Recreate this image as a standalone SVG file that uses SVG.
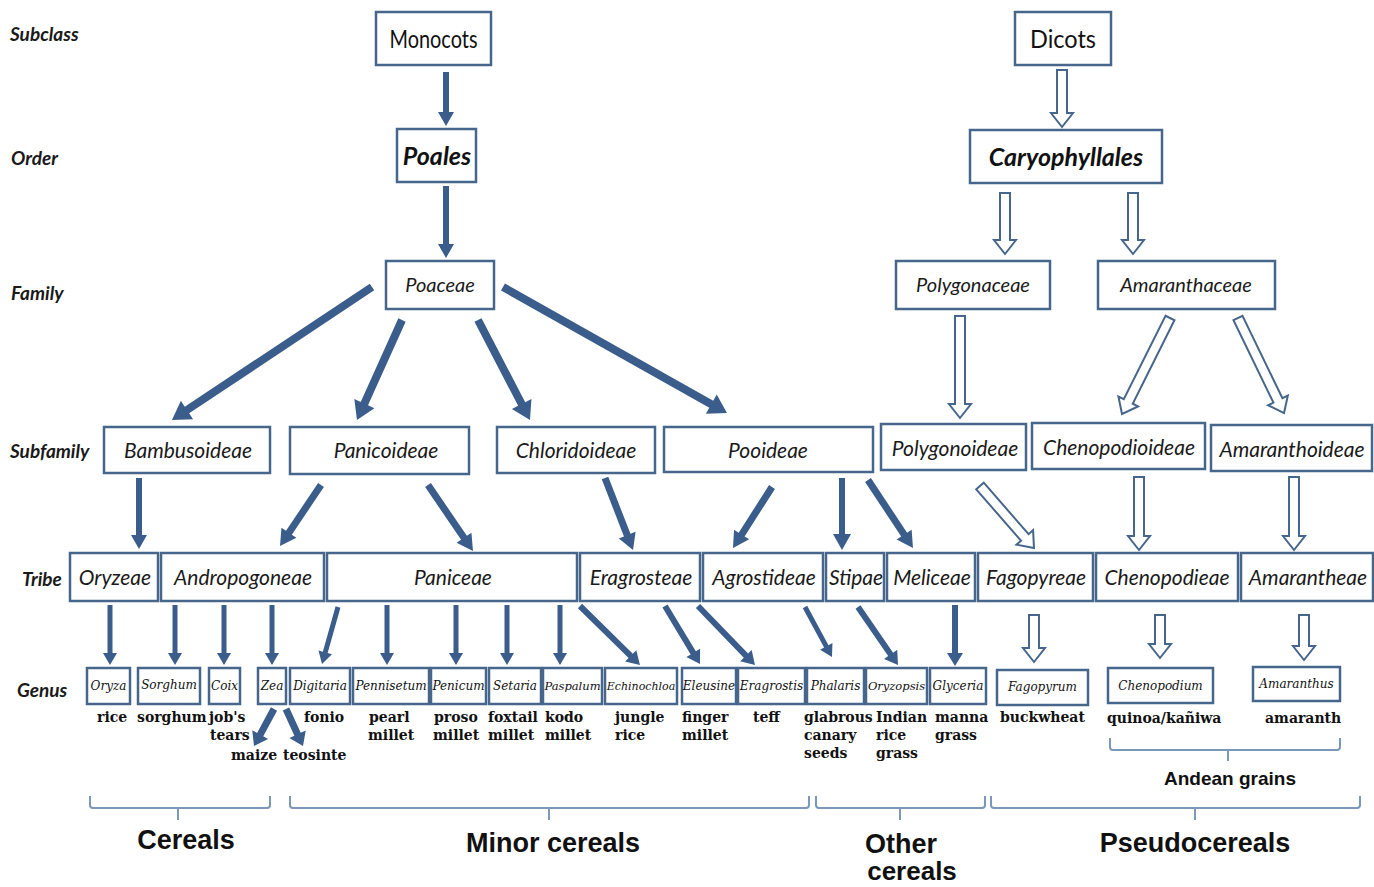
<svg xmlns="http://www.w3.org/2000/svg" width="1374" height="887" viewBox="0 0 1374 887">
<style>
.bx{fill:#fff;stroke:#46668c;stroke-width:2.5}
.rl{font-family:Lato,"Liberation Sans",sans-serif;font-weight:bold;font-style:italic;font-size:19px;fill:#1a1a1a}
.nt{font-family:Lato,"Liberation Sans",sans-serif;font-style:italic;font-size:21px;fill:#1a1a1a;text-anchor:middle}
.big{font-family:Lato,"Liberation Sans",sans-serif;font-size:25px;fill:#111;text-anchor:middle}
.bi{font-family:Lato,"Liberation Sans",sans-serif;font-weight:bold;font-style:italic;font-size:25px;fill:#111;text-anchor:middle}
.gn{font-family:"DejaVu Serif","Liberation Serif",serif;font-style:italic;font-size:12px;fill:#111;text-anchor:middle}
.cn{font-family:"DejaVu Serif","Liberation Serif",serif;font-weight:bold;font-size:14px;fill:#111}
.cat{font-family:"Liberation Sans",Arial,sans-serif;font-weight:bold;font-size:27px;fill:#111;text-anchor:middle}
.fa{fill:#3b5d8c}
.ha{fill:#fff;stroke:#46668c;stroke-width:2}
.br{fill:none;stroke:#7b98b8;stroke-width:2}
</style>

<!-- row labels -->
<g id="row-labels">
<text class="rl" x="10" y="41">Subclass</text>
<text class="rl" x="11" y="165">Order</text>
<text class="rl" x="11" y="300">Family</text>
<text class="rl" x="10" y="458">Subfamily</text>
<text class="rl" x="22" y="586">Tribe</text>
<text class="rl" x="17" y="697">Genus</text>
</g>

<!-- connectors -->
<g id="connectors">
<!-- filled arrows -->
<path class="fa" transform="translate(446,72)" d="M-3,0 H3 V40 H8 L0,54 L-8,40 H-3 Z"/>
<path class="fa" transform="translate(446,186)" d="M-3,0 H3 V58 H8 L0,72 L-8,58 H-3 Z"/>
<path class="fa" transform="translate(372,287) rotate(56.38)" d="M-4,0 H4 V222.2 H11 L0,240.2 L-11,222.2 H-4 Z"/>
<path class="fa" transform="translate(402,320) rotate(24.23)" d="M-4,0 H4 V91.7 H11 L0,109.7 L-11,91.7 H-4 Z"/>
<path class="fa" transform="translate(478,320) rotate(-27.47)" d="M-4,0 H4 V94.7 H11 L0,112.7 L-11,94.7 H-4 Z"/>
<path class="fa" transform="translate(503,287) rotate(-60.64)" d="M-4,0 H4 V239 H11 L0,257 L-11,239 H-4 Z"/>
<path class="fa" transform="translate(139,478)" d="M-3,0 H3 V57 H8 L0,71 L-8,57 H-3 Z"/>
<path class="fa" transform="translate(321,485) rotate(33.9)" d="M-3.5,0 H3.5 V57.5 H9 L0,73.5 L-9,57.5 H-3.5 Z"/>
<path class="fa" transform="translate(428,485) rotate(-34.29)" d="M-3.5,0 H3.5 V63.9 H9 L0,79.9 L-9,63.9 H-3.5 Z"/>
<path class="fa" transform="translate(605,478) rotate(-21.25)" d="M-3.5,0 H3.5 V61.3 H9 L0,77.3 L-9,61.3 H-3.5 Z"/>
<path class="fa" transform="translate(772,487) rotate(32.59)" d="M-3.5,0 H3.5 V56.4 H9 L0,72.4 L-9,56.4 H-3.5 Z"/>
<path class="fa" transform="translate(842,478)" d="M-3,0 H3 V56 H9 L0,72 L-9,56 H-3 Z"/>
<path class="fa" transform="translate(868,480) rotate(-33.5)" d="M-3.5,0 H3.5 V65.5 H9 L0,81.5 L-9,65.5 H-3.5 Z"/>
<!-- tribe to genus -->
<path class="fa" transform="translate(110,605)" d="M-2.5,0 H2.5 V48 H7 L0,60 L-7,48 H-2.5 Z"/>
<path class="fa" transform="translate(175,605)" d="M-2.5,0 H2.5 V48 H7 L0,60 L-7,48 H-2.5 Z"/>
<path class="fa" transform="translate(224,605)" d="M-2.5,0 H2.5 V48 H7 L0,60 L-7,48 H-2.5 Z"/>
<path class="fa" transform="translate(272,605)" d="M-2.5,0 H2.5 V48 H7 L0,60 L-7,48 H-2.5 Z"/>
<path class="fa" transform="translate(387,605)" d="M-2.5,0 H2.5 V48 H7 L0,60 L-7,48 H-2.5 Z"/>
<path class="fa" transform="translate(456,605)" d="M-2.5,0 H2.5 V48 H7 L0,60 L-7,48 H-2.5 Z"/>
<path class="fa" transform="translate(507,605)" d="M-2.5,0 H2.5 V48 H7 L0,60 L-7,48 H-2.5 Z"/>
<path class="fa" transform="translate(560,605)" d="M-2.5,0 H2.5 V48 H7 L0,60 L-7,48 H-2.5 Z"/>
<path class="fa" transform="translate(955,605)" d="M-3,0 H3 V48 H8 L0,61 L-8,48 H-3 Z"/>
<path class="fa" transform="translate(338,607) rotate(15.68)" d="M-2.5,0 H2.5 V47.2 H7 L0,59.2 L-7,47.2 H-2.5 Z"/>
<path class="fa" transform="translate(580,606) rotate(-45.48)" d="M-3,0 H3 V71.1 H8 L0,84.1 L-8,71.1 H-3 Z"/>
<path class="fa" transform="translate(665,606) rotate(-31.11)" d="M-3,0 H3 V54.7 H8 L0,67.7 L-8,54.7 H-3 Z"/>
<path class="fa" transform="translate(698,606) rotate(-44)" d="M-3,0 H3 V69 H8 L0,82 L-8,69 H-3 Z"/>
<path class="fa" transform="translate(805,607) rotate(-28.37)" d="M-2.5,0 H2.5 V44.8 H7 L0,56.8 L-7,44.8 H-2.5 Z"/>
<path class="fa" transform="translate(858,607) rotate(-34.59)" d="M-3,0 H3 V57.5 H8 L0,70.5 L-8,57.5 H-3 Z"/>
<path class="fa" transform="translate(274,709) rotate(28.39)" d="M-3.5,0 H3.5 V29.1 H9 L0,42.1 L-9,29.1 H-3.5 Z"/>
<path class="fa" transform="translate(286,709) rotate(-24.68)" d="M-3.5,0 H3.5 V27.7 H9 L0,40.7 L-9,27.7 H-3.5 Z"/>
<!-- hollow arrows -->
<polygon class="ha" points="1057,70 1067,70 1067,113 1073,113 1062,127 1051,113 1057,113"/>
<polygon class="ha" points="1000,193 1010,193 1010,240 1016,240 1005,254 994,240 1000,240"/>
<polygon class="ha" points="1128,193 1138,193 1138,240 1144,240 1133,254 1122,240 1128,240"/>
<polygon class="ha" points="955,316 965,316 965,404 971,404 960,418 949,404 955,404"/>
<path class="ha" transform="translate(1170,318) rotate(26.57)" d="M-5,0 H5 V93.3 H11 L0,107.3 L-11,93.3 H-5 Z"/>
<path class="ha" transform="translate(1238,318) rotate(-25.84)" d="M-5,0 H5 V91.6 H11 L0,105.6 L-11,91.6 H-5 Z"/>
<path class="ha" transform="translate(980,486) rotate(-41.05)" d="M-5,0 H5 V68.2 H11 L0,82.2 L-11,68.2 H-5 Z"/>
<polygon class="ha" points="1134,477 1144,477 1144,536 1150,536 1139,550 1128,536 1134,536"/>
<polygon class="ha" points="1289,477 1299,477 1299,536 1305,536 1294,550 1283,536 1289,536"/>
<polygon class="ha" points="1029,615 1039,615 1039,648 1045,648 1034,662 1023,648 1029,648"/>
<polygon class="ha" points="1155,615 1165,615 1165,644 1171,644 1160,658 1149,644 1155,644"/>
<polygon class="ha" points="1299,615 1309,615 1309,646 1315,646 1304,660 1293,646 1299,646"/>
</g>

<!-- subclass / order / family -->
<g id="n-monocots"><rect class="bx" x="376" y="12" width="115" height="53"/><text class="big" x="433.5" y="48" textLength="88" lengthAdjust="spacingAndGlyphs">Monocots</text></g>
<g id="n-dicots"><rect class="bx" x="1015" y="12" width="96" height="53"/><text class="big" x="1063" y="48" textLength="66" lengthAdjust="spacingAndGlyphs">Dicots</text></g>
<g id="n-poales"><rect class="bx" x="397" y="129" width="79" height="53"/><text class="bi" x="437" y="165">Poales</text></g>
<g id="n-caryophyllales"><rect class="bx" x="970" y="130" width="192" height="53"/><text class="bi" x="1066" y="166">Caryophyllales</text></g>
<g id="n-poaceae"><rect class="bx" x="386" y="261" width="108" height="48"/><text class="nt" x="440" y="292" style="font-size:20px">Poaceae</text></g>
<g id="n-polygonaceae"><rect class="bx" x="896" y="261" width="154" height="48"/><text class="nt" x="973" y="292" style="font-size:20px">Polygonaceae</text></g>
<g id="n-amaranthaceae"><rect class="bx" x="1098" y="261" width="177" height="48"/><text class="nt" x="1186" y="292" style="font-size:20px">Amaranthaceae</text></g>

<!-- subfamily -->
<g id="n-bambusoideae"><rect class="bx" x="104" y="427" width="166" height="46"/><text class="nt" x="188" y="458">Bambusoideae</text></g>
<g id="n-panicoideae"><rect class="bx" x="290" y="427" width="179" height="47"/><text class="nt" x="386" y="458">Panicoideae</text></g>
<g id="n-chloridoideae"><rect class="bx" x="497" y="427" width="158" height="46"/><text class="nt" x="576" y="458">Chloridoideae</text></g>
<g id="n-pooideae"><rect class="bx" x="664" y="427" width="209" height="45"/><text class="nt" x="768" y="458">Pooideae</text></g>
<g id="n-polygonoideae"><rect class="bx" x="881" y="424" width="145" height="46"/><text class="nt" x="955" y="456">Polygonoideae</text></g>
<g id="n-chenopodioideae"><rect class="bx" x="1032" y="423" width="173" height="46"/><text class="nt" x="1119" y="455">Chenopodioideae</text></g>
<g id="n-amaranthoideae"><rect class="bx" x="1211" y="425" width="161" height="46"/><text class="nt" x="1292" y="457">Amaranthoideae</text></g>

<!-- tribe -->
<g id="n-oryzeae"><rect class="bx" x="70" y="553" width="88" height="48"/><text class="nt" x="115" y="585">Oryzeae</text></g>
<g id="n-andropogoneae"><rect class="bx" x="161" y="553" width="163" height="48"/><text class="nt" x="243" y="585">Andropogoneae</text></g>
<g id="n-paniceae"><rect class="bx" x="327" y="553" width="250" height="48"/><text class="nt" x="453" y="585">Paniceae</text></g>
<g id="n-eragrosteae"><rect class="bx" x="580" y="553" width="120" height="48"/><text class="nt" x="641" y="585">Eragrosteae</text></g>
<g id="n-agrostideae"><rect class="bx" x="703" y="553" width="120" height="48"/><text class="nt" x="764" y="585">Agrostideae</text></g>
<g id="n-stipae"><rect class="bx" x="826" y="553" width="58" height="48"/><text class="nt" x="856" y="585">Stipae</text></g>
<g id="n-meliceae"><rect class="bx" x="887" y="553" width="88" height="48"/><text class="nt" x="932" y="585">Meliceae</text></g>
<g id="n-fagopyreae"><rect class="bx" x="978" y="553" width="115" height="48"/><text class="nt" x="1036" y="585">Fagopyreae</text></g>
<g id="n-chenopodieae"><rect class="bx" x="1096" y="553" width="142" height="48"/><text class="nt" x="1167" y="585">Chenopodieae</text></g>
<g id="n-amarantheae"><rect class="bx" x="1241" y="553" width="132" height="48"/><text class="nt" x="1308" y="585">Amarantheae</text></g>

<!-- genus -->
<g id="n-oryza"><rect class="bx" x="87" y="668" width="43" height="36"/><text class="gn" x="108.5" y="690">Oryza</text></g>
<g id="n-sorghum"><rect class="bx" x="138" y="668" width="62" height="36"/><text class="gn" x="169" y="689">Sorghum</text></g>
<g id="n-coix"><rect class="bx" x="209" y="668" width="31" height="36"/><text class="gn" x="224.5" y="690">Coix</text></g>
<g id="n-zea"><rect class="bx" x="258" y="668" width="28" height="36"/><text class="gn" x="272" y="690">Zea</text></g>
<g id="n-digitaria"><rect class="bx" x="290" y="668" width="60" height="36"/><text class="gn" x="320" y="690">Digitaria</text></g>
<g id="n-pennisetum"><rect class="bx" x="353" y="668" width="76" height="36"/><text class="gn" x="391" y="690">Pennisetum</text></g>
<g id="n-penicum"><rect class="bx" x="431" y="668" width="55" height="36"/><text class="gn" x="458.5" y="690">Penicum</text></g>
<g id="n-setaria"><rect class="bx" x="489" y="668" width="52" height="36"/><text class="gn" x="515" y="690">Setaria</text></g>
<g id="n-paspalum"><rect class="bx" x="543" y="668" width="59" height="36"/><text class="gn" x="572.5" y="690" style="font-size:11.5px">Paspalum</text></g>
<g id="n-echinochloa"><rect class="bx" x="605" y="668" width="72" height="36"/><text class="gn" x="641" y="690" style="font-size:11px">Echinochloa</text></g>
<g id="n-eleusine"><rect class="bx" x="682" y="668" width="54" height="36"/><text class="gn" x="709" y="690">Eleusine</text></g>
<g id="n-eragrostis"><rect class="bx" x="738" y="668" width="67" height="36"/><text class="gn" x="771.5" y="690">Eragrostis</text></g>
<g id="n-phalaris"><rect class="bx" x="807" y="668" width="57" height="36"/><text class="gn" x="835.5" y="690">Phalaris</text></g>
<g id="n-oryzopsis"><rect class="bx" x="866" y="668" width="61" height="36"/><text class="gn" x="896.5" y="690" style="font-size:11.5px">Oryzopsis</text></g>
<g id="n-glyceria"><rect class="bx" x="930" y="668" width="56" height="36"/><text class="gn" x="958" y="690">Glyceria</text></g>
<g id="n-fagopyrum"><rect class="bx" x="997" y="670" width="91" height="35"/><text class="gn" x="1042.5" y="691">Fagopyrum</text></g>
<g id="n-chenopodium"><rect class="bx" x="1108" y="668" width="105" height="35"/><text class="gn" x="1160.5" y="690">Chenopodium</text></g>
<g id="n-amaranthus"><rect class="bx" x="1253" y="667" width="87" height="34"/><text class="gn" x="1296.5" y="688">Amaranthus</text></g>

<!-- common names -->
<g id="common-names">
<text class="cn" x="97" y="722">rice</text>
<text class="cn" x="137" y="722">sorghum</text>
<text class="cn" x="209" y="722">job's</text>
<text class="cn" x="210" y="740">tears</text>
<text class="cn" x="231" y="760">maize</text>
<text class="cn" x="283" y="760">teosinte</text>
<text class="cn" x="304" y="722">fonio</text>
<text class="cn" x="369" y="722">pearl</text>
<text class="cn" x="368" y="740">millet</text>
<text class="cn" x="434" y="722">proso</text>
<text class="cn" x="433" y="740">millet</text>
<text class="cn" x="488" y="722">foxtail</text>
<text class="cn" x="488" y="740">millet</text>
<text class="cn" x="545" y="722">kodo</text>
<text class="cn" x="545" y="740">millet</text>
<text class="cn" x="615" y="722">jungle</text>
<text class="cn" x="615" y="740">rice</text>
<text class="cn" x="682" y="722">finger</text>
<text class="cn" x="682" y="740">millet</text>
<text class="cn" x="753" y="722">teff</text>
<text class="cn" x="804" y="722">glabrous</text>
<text class="cn" x="804" y="740">canary</text>
<text class="cn" x="804" y="758">seeds</text>
<text class="cn" x="876" y="722">Indian</text>
<text class="cn" x="876" y="740">rice</text>
<text class="cn" x="876" y="758">grass</text>
<text class="cn" x="935" y="722">manna</text>
<text class="cn" x="935" y="740">grass</text>
<text class="cn" x="1000" y="722">buckwheat</text>
<text class="cn" x="1107" y="723">quinoa/kañiwa</text>
<text class="cn" x="1265" y="723">amaranth</text>
</g>

<!-- brackets -->
<g id="brackets">
<path class="br" d="M1110,738 V747 Q1110,750 1113,750 H1337 Q1340,750 1340,747 V738 M1228,750 V761"/>
<path class="br" d="M90,796 V805 Q90,808 93,808 H267 Q270,808 270,805 V796 M178,808 V820"/>
<path class="br" d="M290,796 V805 Q290,808 293,808 H806 Q809,808 809,805 V796 M549,808 V820"/>
<path class="br" d="M816,796 V805 Q816,808 819,808 H982 Q985,808 985,805 V796 M900,808 V820"/>
<path class="br" d="M991,796 V805 Q991,808 994,808 H1357 Q1360,808 1360,805 V796 M1195,808 V820"/>
</g>

<g id="categories">
<text class="cat" x="1230" y="785" style="font-size:19px">Andean grains</text>
<text class="cat" x="186" y="849">Cereals</text>
<text class="cat" x="553" y="852">Minor cereals</text>
<text class="cat" x="901" y="853">Other</text>
<text class="cat" x="912" y="880" style="font-size:26px">cereals</text>
<text class="cat" x="1195" y="852">Pseudocereals</text>
</g>
</svg>
